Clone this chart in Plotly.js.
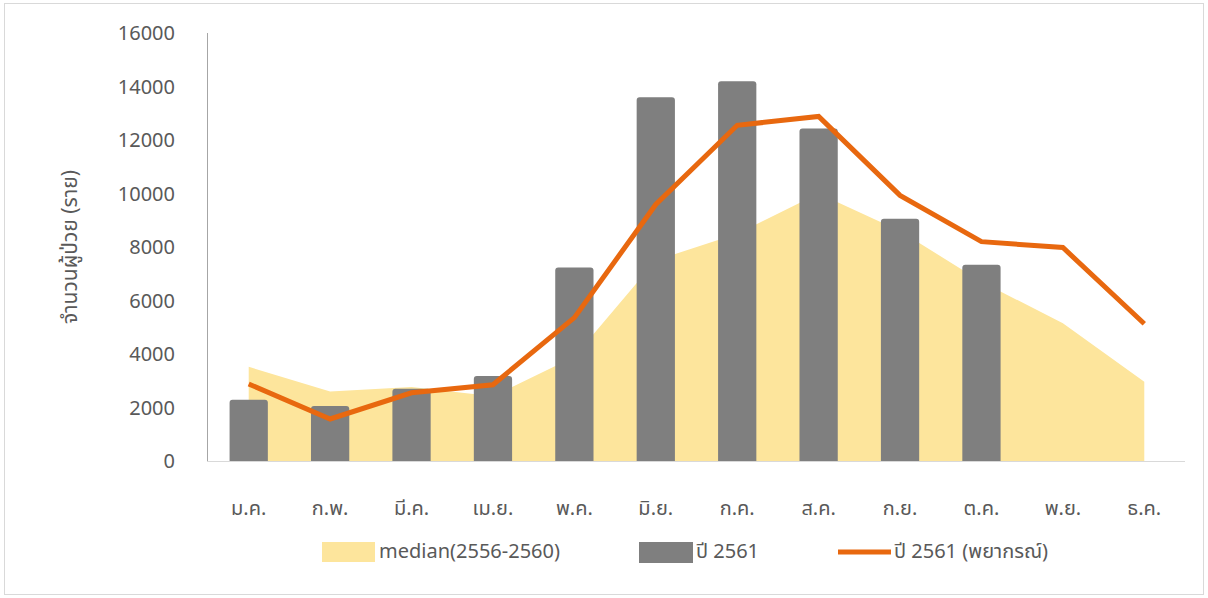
<!DOCTYPE html>
<html>
<head>
<meta charset="utf-8">
<script src="https://cdn.plot.ly/plotly-3.0.1.min.js"></script>
<style>
  html, body { margin: 0; padding: 0; background: #ffffff; }
  #chart { width: 1208px; height: 598px; }
  #frame { position: absolute; left: 4px; top: 3px; width: 1198px; height: 590px; border: 1px solid #d9d9d9; pointer-events: none; }
</style>
</head>
<body>
<div id="chart"></div>
<div id="frame"></div>
<script>
const months = ['ม.ค.', 'ก.พ.', 'มี.ค.', 'เม.ย.', 'พ.ค.', 'มิ.ย.', 'ก.ค.', 'ส.ค.', 'ก.ย.', 'ต.ค.', 'พ.ย.', 'ธ.ค.'];
const medianValues = [3520, 2600, 2770, 2420, 3900, 7500, 8500, 10000, 8600, 6700, 5150, 2960];
const cases2561 = [2290, 2060, 2700, 3180, 7230, 13600, 14200, 12430, 9060, 7340, null, null];
const forecast2561 = [2880, 1570, 2550, 2850, 5360, 9590, 12550, 12880, 9930, 8200, 7980, 5130];
const seriesNames = ['median(2556-2560)', 'ปี 2561', 'ปี 2561 (พยากรณ์)'];
const yTicks = [0, 2000, 4000, 6000, 8000, 10000, 12000, 14000, 16000];

const FONT = '"Noto Sans Thai", "Leelawadee UI", Tahoma, "Noto Sans", "DejaVu Sans", sans-serif';
const COLORS = { median: '#FDE59C', bars: '#7F7F7F', line: '#E8680F', text: '#595959' };

// page geometry of the plot area (pixels)
const W = 1208, H = 598, L = 208, R = 23, T = 33, B = 137;
const PW = W - L - R, PH = H - T - B;
const px = v => (v - L) / PW;
const py = v => (H - B - v) / PH;

const traces = [
  {
    type: 'scatter', mode: 'lines', x: months, y: medianValues, name: seriesNames[0],
    xaxis: 'x', yaxis: 'y',
    fill: 'tozeroy', fillcolor: COLORS.median, line: { width: 0, color: COLORS.median },
    showlegend: false
  },
  {
    type: 'bar', x: months, y: cases2561, name: seriesNames[1],
    xaxis: 'x2', yaxis: 'y2',
    marker: { color: COLORS.bars, line: { width: 0 }, cornerradius: 3 },
    showlegend: false
  },
  {
    type: 'scatter', mode: 'lines', x: months, y: forecast2561, name: seriesNames[2],
    xaxis: 'x2', yaxis: 'y2',
    line: { color: COLORS.line, width: 5 },
    showlegend: false
  }
];

// custom legend (large swatches like the original)
const legendY = 552;
const shapes = [
  { type: 'rect', xref: 'paper', yref: 'paper', x0: px(322), x1: px(375), y0: py(562), y1: py(542),
    fillcolor: COLORS.median, line: { width: 0 } },
  { type: 'rect', xref: 'paper', yref: 'paper', x0: px(639), x1: px(693), y0: py(563), y1: py(542),
    fillcolor: COLORS.bars, line: { width: 0 } },
  { type: 'line', xref: 'paper', yref: 'paper', x0: px(838), x1: px(891), y0: py(legendY), y1: py(legendY),
    line: { color: COLORS.line, width: 5 } }
];
const legendFont = { family: FONT, size: 20, color: COLORS.text };
const annotations = [
  { xref: 'paper', yref: 'paper', x: px(377), y: py(legendY), xanchor: 'left', yanchor: 'middle',
    text: seriesNames[0], showarrow: false, font: legendFont },
  { xref: 'paper', yref: 'paper', x: px(694), y: py(legendY), xanchor: 'left', yanchor: 'middle',
    text: seriesNames[1], showarrow: false, font: legendFont },
  { xref: 'paper', yref: 'paper', x: px(892), y: py(legendY), xanchor: 'left', yanchor: 'middle',
    text: seriesNames[2], showarrow: false, font: legendFont }
];

const catRange = [-0.5, months.length - 0.5];

const layout = {
  width: W, height: H,
  margin: { l: L, r: R, t: T, b: B },
  paper_bgcolor: '#ffffff', plot_bgcolor: '#ffffff',
  font: { family: FONT, size: 20, color: COLORS.text },
  bargap: 0.53,
  showlegend: false,
  shapes: shapes,
  annotations: annotations,
  xaxis: {
    type: 'category', range: catRange, showgrid: false, zeroline: false,
    showline: true, linecolor: '#d9d9d9', linewidth: 1,
    ticks: 'outside', ticklen: 29, tickcolor: 'rgba(0,0,0,0)',
    tickfont: { family: FONT, size: 20, color: COLORS.text },
    fixedrange: true
  },
  yaxis: {
    range: [0, 16000], tickvals: yTicks, ticktext: yTicks.map(String),
    showgrid: false, zeroline: false,
    showline: true, linecolor: '#a6a6a6', linewidth: 1,
    ticks: 'outside', ticklen: 28, tickcolor: 'rgba(0,0,0,0)',
    tickfont: { family: FONT, size: 20, color: COLORS.text },
    title: { text: 'จำนวนผู้ป่วย (ราย)', font: { family: FONT, size: 21, color: COLORS.text }, standoff: 34 },
    fixedrange: true
  },
  xaxis2: {
    type: 'category', range: catRange, overlaying: 'x', visible: false, fixedrange: true
  },
  yaxis2: {
    range: [0, 16000], overlaying: 'y', visible: false, fixedrange: true
  }
};

Plotly.newPlot('chart', traces, layout, { displayModeBar: false, staticPlot: true });
</script>
</body>
</html>
